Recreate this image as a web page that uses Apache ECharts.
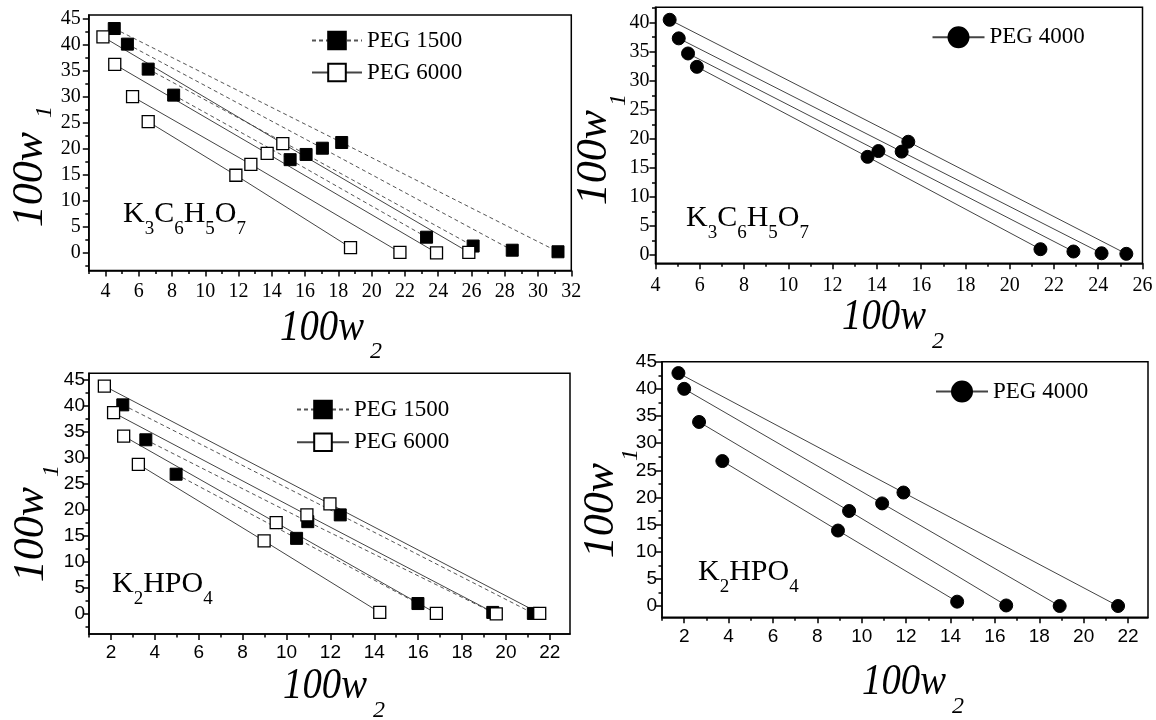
<!DOCTYPE html>
<html><head><meta charset="utf-8">
<script src="https://cdn.jsdelivr.net/npm/echarts@6/dist/echarts.min.js"></script>
<style>html,body{margin:0;padding:0;background:#fff}#c{width:1156px;height:720px}</style>
</head><body><div id="c"></div>
<script>
// ---- data: tie lines, each [top phase, total composition, bottom phase] as [100w2, 100w1]
const citPEG1500 = [
  [[4.53,43.1],[18.2,21.2],[31.2,0.2]],
  [[5.32,40.1],[17.04,20.1],[28.45,0.5]],
  [[6.57,35.3],[16.06,18.9],[26.1,1.3]],
  [[8.1,30.3],[15.1,17.9],[23.3,3.0]]
];
const citPEG6000 = [
  [[3.85,41.5],[14.66,21.0],[25.84,0.1]],
  [[4.56,36.2],[13.72,19.1],[23.9,0.0]],
  [[5.63,30.0],[12.74,17.0],[21.7,0.1]],
  [[6.57,25.2],[11.84,14.9],[18.73,1.0]]
];
const citPEG4000 = [
  [[4.64,40.5],[15.42,19.5],[25.27,0.2]],
  [[5.05,37.3],[15.12,17.8],[24.15,0.3]],
  [[5.47,34.7],[14.07,17.9],[22.88,0.6]],
  [[5.87,32.4],[13.58,16.9],[21.39,1.0]]
];
const hpoPEG1500 = [
  [[2.54,40.1],[12.45,19.0],[21.25,0.1]],
  [[3.59,33.4],[10.97,17.7],[19.4,0.3]],
  [[4.97,26.8],[10.46,14.5],[15.99,2.0]]
];
const hpoPEG6000 = [
  [[1.70,43.7],[11.98,21.1],[21.54,0.1]],
  [[2.12,38.6],[10.93,19.0],[19.56,0.0]],
  [[2.58,34.1],[9.53,17.5],[16.83,0.1]],
  [[3.25,28.7],[8.98,14.0],[14.25,0.3]]
];
const hpoPEG4000 = [
  [[1.74,42.9],[11.88,20.9],[21.55,0.0]],
  [[2.0,40.0],[10.92,18.9],[18.92,0.0]],
  [[2.67,33.9],[9.43,17.5],[16.51,0.1]],
  [[3.72,26.7],[8.93,13.9],[14.3,0.8]]
];
// ---- tick labels
const xTicksCit1 = [4,6,8,10,12,14,16,18,20,22,24,26,28,30,32];
const xTicksCit2 = [4,6,8,10,12,14,16,18,20,22,24,26];
const xTicksHpo = [2,4,6,8,10,12,14,16,18,20,22];
const yTicks45 = [0,5,10,15,20,25,30,35,40,45];
const yTicks40 = [0,5,10,15,20,25,30,35,40];
const legendNames1 = ['PEG 1500','PEG 6000'];
const legendNames2 = ['PEG 4000'];

const SERIF = 'Liberation Serif', SANS = 'Liberation Sans';

const panels = [
  {grid:{left:88.8, top:15, width:482.5, height:255.5}, x:[3,32], y:[-3.4,45.7], xt:xTicksCit1, yt:yTicks45, font:SERIF, fs:20, xm:11, ym:8},
  {grid:{left:655.5, top:7.3, width:487, height:256}, x:[4,26], y:[-1.43,42.65], xt:xTicksCit2, yt:yTicks40, font:SERIF, fs:20, xm:12, ym:6},
  {grid:{left:89, top:373.3, width:481, height:260.7}, x:[1,22.92], y:[-3.84,46.15], xt:xTicksHpo, yt:yTicks45, font:SANS, fs:19, xm:9, ym:4},
  {grid:{left:662, top:361.7, width:486, height:255.6}, x:[1,22.9], y:[-2.08,45], xt:xTicksHpo, yt:yTicks45, font:SANS, fs:19, xm:10, ym:5}
];

function minorOf(major, lo, hi){
  const s=(major[1]-major[0])/2, out=[];
  for(let v=major[0]-s; v<=hi+1e-9; v+=2*s){ if(v>=lo-1e-9) out.push(+v.toFixed(4)); }
  return out;
}

const grids=[], xAxes=[], yAxes=[];
panels.forEach((p,i)=>{
  grids.push(Object.assign({show:true, borderColor:'#000', borderWidth:1.5, backgroundColor:'transparent'}, p.grid));
  const lab = {fontFamily:p.font, fontSize:p.fs, color:'#000'};
  xAxes.push({gridIndex:i, type:'value', position:'bottom', min:p.x[0], max:p.x[1],
    axisLine:{show:true, onZero:false, lineStyle:{color:'#000', width:1.5}},
    axisTick:{show:true, customValues:p.xt, length:6, lineStyle:{color:'#000', width:1.5}},
    axisLabel:Object.assign({customValues:p.xt, margin:p.xm}, lab), splitLine:{show:false}});
  xAxes.push({gridIndex:i, type:'value', position:'bottom', min:p.x[0], max:p.x[1],
    axisLine:{show:false, onZero:false},
    axisTick:{show:true, customValues:minorOf(p.xt,p.x[0],p.x[1]), length:3.5, lineStyle:{color:'#000', width:1.5}},
    axisLabel:{show:false}, splitLine:{show:false}});
  yAxes.push({gridIndex:i, type:'value', position:'left', min:p.y[0], max:p.y[1],
    axisLine:{show:true, onZero:false, lineStyle:{color:'#000', width:1.5}},
    axisTick:{show:true, customValues:p.yt, length:6, lineStyle:{color:'#000', width:1.5}},
    axisLabel:Object.assign({customValues:p.yt, margin:p.ym}, lab), splitLine:{show:false}});
  yAxes.push({gridIndex:i, type:'value', position:'left', min:p.y[0], max:p.y[1],
    axisLine:{show:false, onZero:false},
    axisTick:{show:true, customValues:minorOf(p.yt,p.y[0],p.y[1]), length:3.5, lineStyle:{color:'#000', width:1.5}},
    axisLabel:{show:false}, splitLine:{show:false}});
});

const STY = {
  'PEG 1500': {symbol:'rect', symbolSize:12, itemStyle:{color:'#000', borderColor:'#000', borderWidth:1}, lineStyle:{color:'#555', width:1, type:[4,3]}},
  'PEG 6000': {symbol:'rect', symbolSize:12, itemStyle:{color:'#fff', borderColor:'#000', borderWidth:1.3}, lineStyle:{color:'#444', width:1, type:'solid'}},
  'PEG 4000': {symbol:'circle', symbolSize:13, itemStyle:{color:'#000', borderColor:'#000', borderWidth:1}, lineStyle:{color:'#444', width:1, type:'solid'}}
};
const series=[];
function addTies(lines, name, panel){
  lines.forEach(l=>{
    const s = STY[name];
    series.push({type:'line', name, xAxisIndex:2*panel, yAxisIndex:2*panel, data:l,
      symbol:s.symbol, symbolSize:s.symbolSize, showSymbol:true, itemStyle:s.itemStyle, lineStyle:s.lineStyle,
      emphasis:{disabled:true}, animation:false, z:3});
  });
}
addTies(citPEG1500,'PEG 1500',0);
addTies(citPEG6000,'PEG 6000',0);
addTies(citPEG4000,'PEG 4000',1);
addTies(hpoPEG1500,'PEG 1500',2);
addTies(hpoPEG6000,'PEG 6000',2);
addTies(hpoPEG4000,'PEG 4000',3);

const legTxt = {fontFamily:SERIF, fontSize:23, color:'#000', lineHeight:22};
const legends = [
  {data:legendNames1, left:311, top:29, itemWidth:50, itemHeight:22, itemGap:9},
  {data:legendNames2, left:931.5, top:25.8, itemWidth:52, itemHeight:25, itemGap:9},
  {data:legendNames1, left:296, top:398, itemWidth:52, itemHeight:22, itemGap:9.7},
  {data:legendNames2, left:935, top:380, itemWidth:52, itemHeight:25, itemGap:9}
].map(l=>Object.assign({orient:'vertical', padding:0, selectedMode:false, textStyle:legTxt}, l));

// ---- text annotations
const cv = document.createElement('canvas').getContext('2d');
function tw(t, font){ cv.font = font; return cv.measureText(t).width; }
const graphic=[];
function formula(parts, x, yc){
  let cx=x;
  parts.forEach(([t,sub])=>{
    const font = sub ? `19px "${SERIF}"` : `30px "${SERIF}"`;
    graphic.push({type:'text', x:cx, y: sub ? yc+15 : yc, style:{text:t, font, fill:'#000', align:'left', verticalAlign:'middle'}});
    cx += tw(t, font);
  });
}
formula([['K'],['3',1],['C'],['6',1],['H'],['5',1],['O'],['7',1]], 123, 214.5);
formula([['K'],['3',1],['C'],['6',1],['H'],['5',1],['O'],['7',1]], 686, 218);
formula([['K'],['2',1],['HPO'],['4',1]], 112, 584);
formula([['K'],['2',1],['HPO'],['4',1]], 698, 572.5);

const TFONT = `italic 44px "${SERIF}"`, SFONT = `italic 24px "${SERIF}"`;
function xTitle(xEnd, yc){
  graphic.push({type:'text', x:xEnd, y:yc, scaleX:0.88, style:{text:'100w', font:TFONT, fill:'#000', align:'right', verticalAlign:'middle'}});
  graphic.push({type:'text', x:xEnd+6, y:yc+24, style:{text:'2', font:SFONT, fill:'#000', align:'left', verticalAlign:'middle'}});
}
function yTitle(xc, yEnd, sx, sy){
  graphic.push({type:'text', x:xc, y:yEnd, rotation:Math.PI/2, style:{text:'100w', font:TFONT, fill:'#000', align:'right', verticalAlign:'middle'}});
  graphic.push({type:'text', x:sx, y:sy, rotation:Math.PI/2, style:{text:'1', font:SFONT, fill:'#000', align:'center', verticalAlign:'middle'}});
}
xTitle(364, 328); xTitle(926, 317.5); xTitle(367, 686.7); xTitle(946, 682.5);
yTitle(30, 132, 45, 112); yTitle(594, 110, 619, 100); yTitle(31, 487, 52, 471); yTitle(601, 463, 631, 455);

const chart = echarts.init(document.getElementById('c'), null, {renderer:'canvas'});
chart.setOption({
  backgroundColor:'#fff', animation:false,
  grid:grids, xAxis:xAxes, yAxis:yAxes, series, legend:legends, graphic
});
</script></body></html>
